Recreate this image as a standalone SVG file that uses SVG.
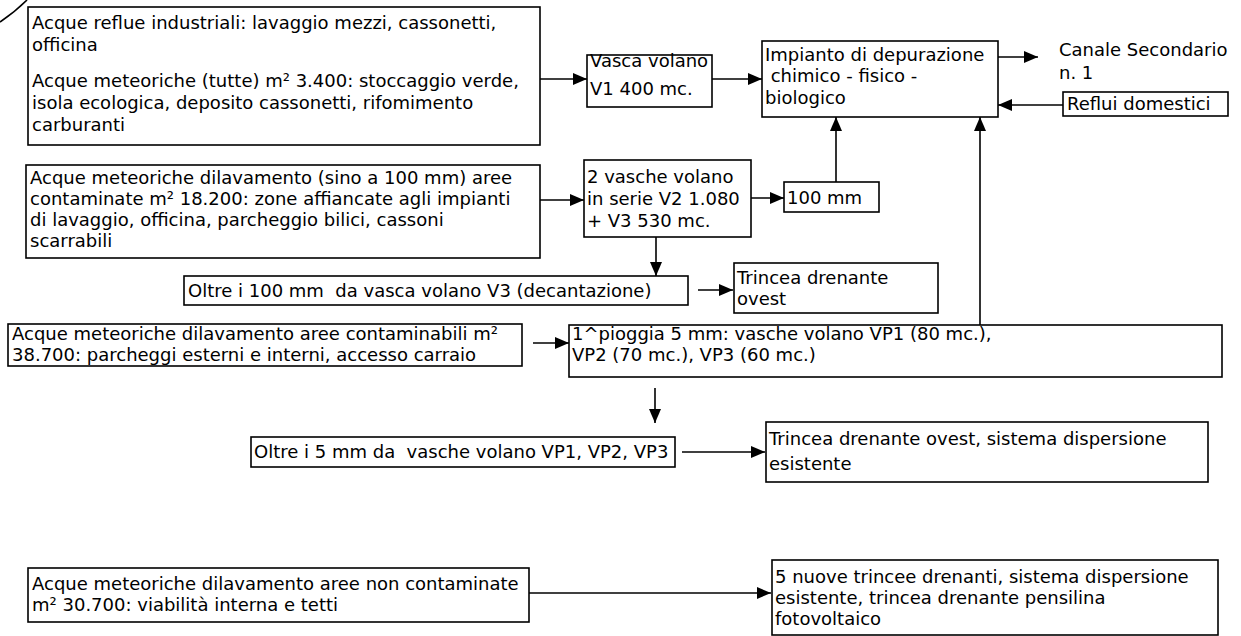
<svg xmlns="http://www.w3.org/2000/svg" width="1241" height="636" viewBox="0 0 1241 636">
<defs>
<style>
.box{fill:#fff;stroke:#000;stroke-width:1.6}
.t{font-family:"DejaVu Sans","Liberation Sans",sans-serif;font-size:18px;fill:#000}
.c{fill:none;stroke:#000;stroke-width:1.6}
</style>
<marker id="ah" viewBox="0 0 14 12" refX="14" refY="6" markerWidth="14" markerHeight="12" markerUnits="userSpaceOnUse" orient="auto"><path d="M0,0 L14,6 L0,12 z" fill="#000"/></marker>
</defs>
<rect width="1241" height="636" fill="#fff"/>
<path d="M0,22 Q15,12 27,0" class="c"/>

<g id="connectors">
<line x1="540" y1="79" x2="587" y2="79" class="c" marker-end="url(#ah)"/>
<line x1="712" y1="79" x2="762" y2="79" class="c" marker-end="url(#ah)"/>
<line x1="998" y1="57" x2="1038" y2="57" class="c" marker-end="url(#ah)"/>
<line x1="1063" y1="105" x2="998" y2="105" class="c" marker-end="url(#ah)"/>
<line x1="836" y1="182" x2="836" y2="117" class="c" marker-end="url(#ah)"/>
<line x1="980" y1="325" x2="980" y2="117" class="c" marker-end="url(#ah)"/>
<line x1="540" y1="200" x2="584" y2="200" class="c" marker-end="url(#ah)"/>
<line x1="751" y1="198" x2="784" y2="198" class="c" marker-end="url(#ah)"/>
<line x1="656" y1="237" x2="656" y2="276" class="c" marker-end="url(#ah)"/>
<line x1="698" y1="290" x2="733" y2="290" class="c" marker-end="url(#ah)"/>
<line x1="533" y1="343" x2="569" y2="343" class="c" marker-end="url(#ah)"/>
<line x1="655" y1="388" x2="655" y2="423" class="c" marker-end="url(#ah)"/>
<line x1="682" y1="452" x2="765" y2="452" class="c" marker-end="url(#ah)"/>
<line x1="529" y1="593" x2="771" y2="593" class="c" marker-end="url(#ah)"/>
</g>

<g id="n1">
<rect x="28" y="7" width="512" height="138" class="box"/>
<text class="t" x="32" y="29">Acque reflue industriali: lavaggio mezzi, cassonetti,</text>
<text class="t" x="32" y="51">officina</text>
<text class="t" x="32" y="87">Acque meteoriche (tutte) m² 3.400: stoccaggio verde,</text>
<text class="t" x="32" y="109">isola ecologica, deposito cassonetti, rifomimento</text>
<text class="t" x="32" y="131">carburanti</text>
</g>

<g id="n2">
<rect x="587" y="55" width="125" height="52" class="box"/>
<text class="t" x="590" y="67">Vasca volano</text>
<text class="t" x="590" y="95">V1 400 mc.</text>
</g>

<g id="n3">
<rect x="762" y="41" width="236" height="76" class="box"/>
<text class="t" x="765" y="61">Impianto di depurazione</text>
<text class="t" x="765" y="82" xml:space="preserve"> chimico - fisico -</text>
<text class="t" x="765" y="104">biologico</text>
</g>

<g id="n4">
<text class="t" x="1059" y="56">Canale Secondario</text>
<text class="t" x="1059" y="79">n. 1</text>
</g>

<g id="n5">
<rect x="1063" y="92" width="165" height="24" class="box"/>
<text class="t" x="1067" y="110">Reflui domestici</text>
</g>

<g id="n6">
<rect x="26" y="165" width="514" height="93" class="box"/>
<text class="t" x="30" y="184">Acque meteoriche dilavamento (sino a 100 mm) aree</text>
<text class="t" x="30" y="205">contaminate m² 18.200: zone affiancate agli impianti</text>
<text class="t" x="30" y="226">di lavaggio, officina, parcheggio bilici, cassoni</text>
<text class="t" x="30" y="247">scarrabili</text>
</g>

<g id="n7">
<rect x="584" y="160" width="167" height="77" class="box"/>
<text class="t" x="587" y="183">2 vasche volano</text>
<text class="t" x="587" y="205">in serie V2 1.080</text>
<text class="t" x="587" y="227">+ V3 530 mc.</text>
</g>

<g id="n8">
<rect x="784" y="182" width="95" height="30" class="box"/>
<text class="t" x="787" y="204">100 mm</text>
</g>

<g id="n9">
<rect x="184" y="276" width="504" height="29" class="box"/>
<text class="t" x="188" y="297" xml:space="preserve">Oltre i 100 mm  da vasca volano V3 (decantazione)</text>
</g>

<g id="n10">
<rect x="734" y="263" width="204" height="50" class="box"/>
<text class="t" x="737" y="284">Trincea drenante</text>
<text class="t" x="737" y="305">ovest</text>
</g>

<g id="n11">
<rect x="8" y="324" width="514" height="42" class="box"/>
<text class="t" x="12" y="340">Acque meteoriche dilavamento aree contaminabili m²</text>
<text class="t" x="12" y="361">38.700: parcheggi esterni e interni, accesso carraio</text>
</g>

<g id="n12">
<rect x="569" y="325" width="653" height="52" class="box"/>
<text class="t" x="572" y="340">1^pioggia 5 mm: vasche volano VP1 (80 mc.),</text>
<text class="t" x="572" y="361">VP2 (70 mc.), VP3 (60 mc.)</text>
</g>

<g id="n13">
<rect x="251" y="437" width="424" height="30" class="box"/>
<text class="t" x="254" y="458" xml:space="preserve">Oltre i 5 mm da  vasche volano VP1, VP2, VP3</text>
</g>

<g id="n14">
<rect x="766" y="422" width="442" height="60" class="box"/>
<text class="t" x="769" y="445">Trincea drenante ovest, sistema dispersione</text>
<text class="t" x="769" y="470">esistente</text>
</g>

<g id="n15">
<rect x="28" y="568" width="501" height="54" class="box"/>
<text class="t" x="32" y="590">Acque meteoriche dilavamento aree non contaminate</text>
<text class="t" x="32" y="611">m² 30.700: viabilità interna e tetti</text>
</g>

<g id="n16">
<rect x="772" y="560" width="446" height="75" class="box"/>
<text class="t" x="775" y="583">5 nuove trincee drenanti, sistema dispersione</text>
<text class="t" x="775" y="604">esistente, trincea drenante pensilina</text>
<text class="t" x="775" y="625">fotovoltaico</text>
</g>
</svg>
